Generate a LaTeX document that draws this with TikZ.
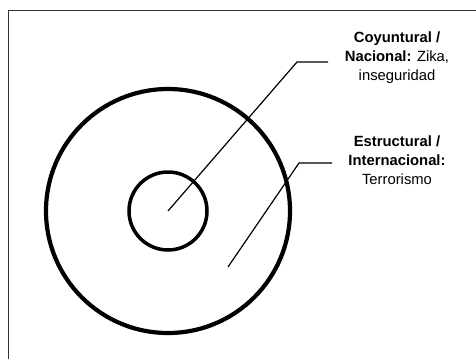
\documentclass[tikz,border=0pt]{standalone}
\usepackage{fontspec}
\setmainfont{Liberation Sans}
\usepackage{tikz}

\begin{document}
\begin{tikzpicture}[x=1pt, y=-1pt,
	ring/.style={draw, circle, inner sep=0pt},
	lbl/.style={align=center, font=\fontsize{14.8}{19}\selectfont},
	leader/.style={line width=1.2pt}]
			\useasboundingbox (0,0) rectangle (476,359);
			\draw[line width=1pt, black!80] (8,359) -- (8,10.5) -- (476,10.5);
			\node[ring, line width=4.2pt, minimum size=244pt] (outer) at (168,211) {};
			\node[ring, line width=3.5pt, minimum size=78pt] (inner) at (168,211) {};
			\node[lbl] (nacional) at (397,58) {\textbf{Coyuntural /}\\\textbf{Nacional:} Zika,\\inseguridad};
			\node[lbl] (internacional) at (397,160) {\textbf{Estructural /}\\\textbf{Internacional:}\\Terrorismo};
			\coordinate (elbow1) at (297,62);
			\coordinate (end1) at (328,62);
			\coordinate (ring2) at (228,267);
			\coordinate (elbow2) at (299,163);
			\coordinate (end2) at (332,163);
			\draw[leader] (inner.center) -- (elbow1) -- (end1);
			\draw[leader] (ring2) -- (elbow2) -- (end2);
		\end{tikzpicture}
\end{document}
